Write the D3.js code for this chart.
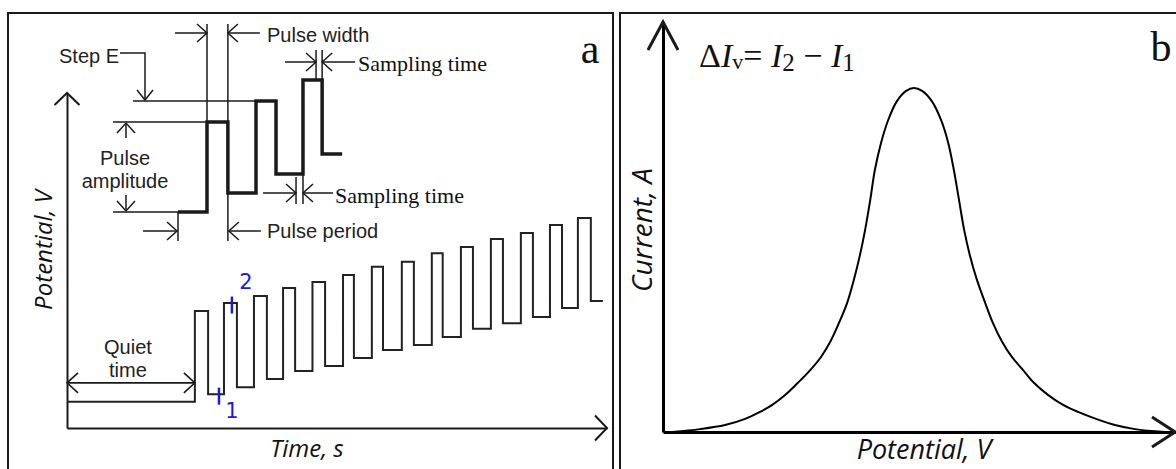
<!DOCTYPE html>
<html>
<head>
<meta charset="utf-8">
<script src="https://cdn.jsdelivr.net/npm/d3@7"></script>
<style>
  body { margin: 0; background: #fff; }
  svg { display: block; }
  .lbl { font-family: "Liberation Sans", Arial, sans-serif; font-size: 20px; fill: #222; }
  .serif { font-family: "Liberation Serif", "Times New Roman", serif; fill: #111; }
  .axt { font-family: "Open Sans", sans-serif; font-style: italic; font-size: 24px; fill: #111; }
  .blue { font-family: "DejaVu Sans", sans-serif; font-size: 21px; fill: #1c1cd0; }
</style>
</head>
<body>
<svg width="1176" height="469"></svg>
<script>
// ---- panel a: main DPV waveform (time in pulse periods, potential in arbitrary units)
const quietV = 7.8
const riseT = [4.35, 5.34, 6.36, 7.35, 8.35, 9.39, 10.37, 11.39, 12.41, 13.40, 14.42, 15.44, 16.43, 17.38]
const fallT = [4.80, 5.78, 6.80, 7.76, 8.78, 9.76, 10.75, 11.80, 12.78, 13.81, 14.83, 15.85, 16.84, 17.82]
const peakV = [34.9, 37.3, 39.4, 41.8, 43.6, 45.7, 48.1, 49.6, 52.2, 54.0, 56.4, 58.2, 60.6, 62.7]
const baseV = [10.1, 12.2, 14.6, 17.0, 18.5, 20.9, 23.3, 24.8, 27.2, 29.6, 31.3, 33.1, 35.8, 37.9]
const endT = 18.23
const sampleT = [5.17, 5.61]      // points 1 and 2

// ---- panel a: inset schematic (a few steps)
const insetT = [0, 1.0, 1.72, 2.69, 3.38, 4.31, 4.97, 5.66]
const insetV = [0, 9.0, 1.9, 11.1, 3.8, 13.2, 5.8, 5.8]
const insetSampleT = [4.07, 4.76]  // lower, upper sampling start

// ---- panel b: differential current peak
const potentialB = [1.8, 7.2, 12.1, 16.0, 18.9, 21.3, 23.8, 26.3, 28.7, 30.8, 32.6, 34.3, 35.9, 37.2, 38.4, 39.4, 40.4, 41.3, 42.5, 43.9, 45.6, 47.4, 48.9,
  50.5, 52.4, 54.2, 55.6, 56.7, 57.7, 58.7, 59.8, 61.2, 62.8, 64.3, 66.1, 68.0, 70.2, 72.3, 75.1, 78.0, 80.9, 84.4, 88.1, 92.0, 97.9]
const currentB = [0, 0.7, 1.7, 3.2, 4.9, 6.6, 9.0, 12.0, 15.1, 18.3, 22.0, 26.6, 31.5, 37.1, 43.2, 49.3, 56.6, 63.9, 70.5, 76.1, 80.7, 83.2, 83.9,
  83.2, 80.7, 76.1, 70.5, 63.9, 56.6, 49.3, 43.2, 37.1, 31.5, 26.6, 22.0, 18.3, 15.1, 12.0, 9.0, 6.6, 4.9, 3.2, 1.7, 0.7, 0]

const svg = d3.select('svg')
const ink = '#1a1a1a'

// open chevron arrow head
const head = (g, x, y, dir, len, half, w) => {
  const pts = {
    r: [[x - len, y - half], [x, y], [x - len, y + half]],
    l: [[x + len, y - half], [x, y], [x + len, y + half]],
    u: [[x - half, y + len], [x, y], [x + half, y + len]],
    d: [[x - half, y - len], [x, y], [x + half, y - len]]
  }[dir]
  g.append('path').attr('d', d3.line()(pts))
    .attr('fill', 'none').attr('stroke', ink).attr('stroke-width', w)
}
const seg = (g, x1, y1, x2, y2, w) => g.append('line')
  .attr('x1', x1).attr('y1', y1).attr('x2', x2).attr('y2', y2)
  .attr('stroke', ink).attr('stroke-width', w)

// panel frames
svg.append('rect').attr('x', 8).attr('y', 13).attr('width', 605).attr('height', 480)
  .attr('fill', 'none').attr('stroke', ink).attr('stroke-width', 2)
svg.append('rect').attr('x', 620).attr('y', 13).attr('width', 600).attr('height', 480)
  .attr('fill', 'none').attr('stroke', ink).attr('stroke-width', 2)

// ================= PANEL A =================
const gA = svg.append('g')
const xA = d3.scaleLinear().domain([0, 18.37]).range([67, 607])
const yA = d3.scaleLinear().domain([0, 100]).range([428, 93])

gA.append('g').attr('transform', `translate(0,${yA(0)})`)
  .call(d3.axisBottom(xA).ticks(0).tickSizeOuter(0))
gA.append('g').attr('transform', `translate(${xA(0)},0)`)
  .call(d3.axisLeft(yA).ticks(0).tickSizeOuter(0))
gA.selectAll('.domain').attr('stroke', ink).attr('stroke-width', 2)
head(gA, xA.range()[1], yA(0), 'r', 12, 12.5, 2)
head(gA, xA(0), yA.range()[1], 'u', 12, 12.5, 2)

// staircase
const wave = [[0, quietV]]
riseT.forEach((t, i) => {
  wave.push([t, peakV[i]])
  wave.push([fallT[i], baseV[i]])
})
wave.push([endT, baseV[baseV.length - 1]])
const stepLine = d3.line().x(d => xA(d[0])).y(d => yA(d[1])).curve(d3.curveStepAfter)
gA.append('path').attr('d', stepLine(wave))
  .attr('fill', 'none').attr('stroke', '#222').attr('stroke-width', 2)

// quiet time
const qy = yA(quietV) - 19
seg(gA, xA(0), qy, xA(riseT[0]), qy, 1.6)
head(gA, xA(0), qy, 'l', 11, 10, 1.6)
head(gA, xA(riseT[0]), qy, 'r', 11, 10, 1.6)
const qx = (xA(0) + xA(riseT[0])) / 2 - 3
gA.append('text').attr('class', 'lbl').attr('x', qx).attr('y', qy - 29).attr('text-anchor', 'middle').text('Quiet')
gA.append('text').attr('class', 'lbl').attr('x', qx).attr('y', qy - 6).attr('text-anchor', 'middle').text('time')

// sample marks 1 and 2
const markLv = [baseV[0], peakV[1]]
sampleT.forEach((t, i) => {
  const cy = yA(markLv[i]) + 2
  gA.append('line').attr('x1', xA(t)).attr('x2', xA(t)).attr('y1', cy - 8.5).attr('y2', cy + 8.5)
    .attr('stroke', '#1c1cd0').attr('stroke-width', 2.5)
})
gA.append('text').attr('class', 'blue').attr('x', xA(sampleT[0]) + 13).attr('y', yA(markLv[0]) + 24)
  .attr('text-anchor', 'middle').text('1')
gA.append('text').attr('class', 'blue').attr('x', xA(sampleT[1]) + 14).attr('y', yA(markLv[1]) - 14)
  .attr('text-anchor', 'middle').text('2')

// axis titles
gA.append('text').attr('class', 'axt').attr('x', 307).attr('y', 457).attr('text-anchor', 'middle').text('Time, s')
gA.append('text').attr('class', 'axt').attr('transform', 'translate(52,250) rotate(-90)')
  .attr('text-anchor', 'middle').text('Potential, V')

gA.append('text').attr('class', 'serif').attr('x', 590).attr('y', 63).attr('text-anchor', 'middle')
  .style('font-size', '42px').text('a')

// ---- inset
const gI = svg.append('g')
const xI = d3.scaleLinear().domain([0, 1]).range([178, 207])
const yI = d3.scaleLinear().domain([0, 1]).range([212, 202])
const thin = 1.5

const insetPts = insetT.map((t, i) => [t, insetV[i]])
gI.append('path')
  .attr('d', d3.line().x(d => xI(d[0])).y(d => yI(d[1])).curve(d3.curveStepAfter)(insetPts))
  .attr('fill', 'none').attr('stroke', ink).attr('stroke-width', 3.5)

// pulse width
const pw1 = xI(insetT[1]), pw2 = xI(insetT[2]), pwy = 33
seg(gI, pw1, 24, pw1, yI(insetV[1]), thin)
seg(gI, pw2, 24, pw2, yI(insetV[1]), thin)
seg(gI, pw1 - 32, pwy, pw1, pwy, thin); head(gI, pw1, pwy, 'r', 10, 9, thin)
seg(gI, pw2, pwy, pw2 + 32, pwy, thin); head(gI, pw2, pwy, 'l', 10, 9, thin)
gI.append('text').attr('class', 'lbl').attr('x', 267).attr('y', 42).text('Pulse width')

// step E
const sy = yI(insetV[3])
seg(gI, 133, sy, xI(insetT[3]), sy, thin)
gI.append('path').attr('d', d3.line()([[120, 53], [145, 53], [145, sy - 1]]))
  .attr('fill', 'none').attr('stroke', ink).attr('stroke-width', thin)
head(gI, 145, sy - 1, 'd', 10, 8, thin)
gI.append('text').attr('class', 'lbl').attr('x', 59).attr('y', 63).text('Step E')

// pulse amplitude
const ay1 = yI(insetV[1]), ay0 = yI(0)
seg(gI, 113, ay1, xI(insetT[1]), ay1, thin)
seg(gI, 113, ay0, xI(0), ay0, thin)
seg(gI, 126, ay1 + 1, 126, ay1 + 16, thin); head(gI, 126, ay1 + 1, 'u', 10, 9, thin)
seg(gI, 126, ay0 - 17, 126, ay0 - 1, thin); head(gI, 126, ay0 - 1, 'd', 10, 9, thin)
gI.append('text').attr('class', 'lbl').attr('x', 125).attr('y', 165).attr('text-anchor', 'middle').text('Pulse')
gI.append('text').attr('class', 'lbl').attr('x', 125).attr('y', 188).attr('text-anchor', 'middle').text('amplitude')

// pulse period
const pp0 = xI(insetT[0]), pp1 = xI(insetT[2]), ppy = 231
seg(gI, pp0, ay0, pp0, 241, thin)
seg(gI, pp1, yI(insetV[2]), pp1, 241, thin)
seg(gI, pp0 - 35, ppy, pp0 - 1, ppy, thin); head(gI, pp0 - 1, ppy, 'r', 10, 9, thin)
seg(gI, pp1 + 1, ppy, pp1 + 33, ppy, thin); head(gI, pp1 + 1, ppy, 'l', 10, 9, thin)
gI.append('text').attr('class', 'lbl').attr('x', 267).attr('y', 238).text('Pulse period')

// sampling time, upper
const su0 = xI(insetSampleT[1]), su1 = xI(insetT[6]), suy = 62
seg(gI, su0, 50, su0, yI(insetV[5]), thin)
seg(gI, su1, 50, su1, yI(insetV[5]), thin)
seg(gI, su0 - 31, suy, su0, suy, thin); head(gI, su0, suy, 'r', 10, 9, thin)
seg(gI, su1, suy, su1 + 33, suy, thin); head(gI, su1, suy, 'l', 10, 9, thin)
gI.append('text').attr('class', 'serif').attr('x', 358).attr('y', 71).style('font-size', '22px').text('Sampling time')

// sampling time, lower
const sl0 = xI(insetSampleT[0]), sl1 = xI(insetT[5]), sly = 193
seg(gI, sl0, 177, sl0, 204, thin)
seg(gI, sl1, yI(insetV[4]), sl1, 204, thin)
seg(gI, sl0 - 33, sly, sl0, sly, thin); head(gI, sl0, sly, 'r', 10, 9, thin)
seg(gI, sl1, sly, sl1 + 30, sly, thin); head(gI, sl1, sly, 'l', 10, 9, thin)
gI.append('text').attr('class', 'serif').attr('x', 335).attr('y', 203).style('font-size', '22px').text('Sampling time')

// ================= PANEL B =================
const gB = svg.append('g')
const xB = d3.scaleLinear().domain([0, 100]).range([663, 1176])
const yB = d3.scaleLinear().domain([0, 100]).range([432, 22])

gB.append('g').attr('transform', `translate(0,${yB(0)})`)
  .call(d3.axisBottom(xB).ticks(0).tickSizeOuter(0))
gB.append('g').attr('transform', `translate(${xB(0)},0)`)
  .call(d3.axisLeft(yB).ticks(0).tickSizeOuter(0))
gB.selectAll('.domain').attr('stroke', '#000').attr('stroke-width', 3)
head(gB, xB.range()[1] - 1, yB(0), 'r', 23, 15, 3)
head(gB, xB(0), yB.range()[1], 'u', 28, 15, 3)

const peakLine = d3.line().x((d, i) => xB(d)).y((d, i) => yB(currentB[i])).curve(d3.curveCatmullRom)
gB.append('path').attr('d', peakLine(potentialB))
  .attr('fill', 'none').attr('stroke', '#000').attr('stroke-width', 2)

gB.append('text').attr('class', 'axt').attr('x', 924).attr('y', 459).attr('text-anchor', 'middle')
  .style('font-size', '27px').text('Potential, V')
gB.append('text').attr('class', 'axt').attr('transform', 'translate(652,230) rotate(-90)')
  .attr('text-anchor', 'middle').style('font-size', '28px').text('Current, A')

gB.append('text').attr('class', 'serif').attr('x', 1161).attr('y', 61).attr('text-anchor', 'middle')
  .style('font-size', '42px').text('b')

const eq = gB.append('text').attr('class', 'serif').attr('x', 699).attr('y', 67).style('font-size', '34px')
eq.append('tspan').text('Δ')
eq.append('tspan').style('font-style', 'italic').text('I')
eq.append('tspan').style('font-size', '22px').attr('dy', 2).text('v')
eq.append('tspan').attr('dy', -2).text('= ')
eq.append('tspan').style('font-style', 'italic').text('I')
eq.append('tspan').style('font-size', '25px').attr('dy', 4).text('2')
eq.append('tspan').attr('dy', -4).text(' − ')
eq.append('tspan').style('font-style', 'italic').text('I')
eq.append('tspan').style('font-size', '25px').attr('dy', 4).text('1')
</script>
</body>
</html>
